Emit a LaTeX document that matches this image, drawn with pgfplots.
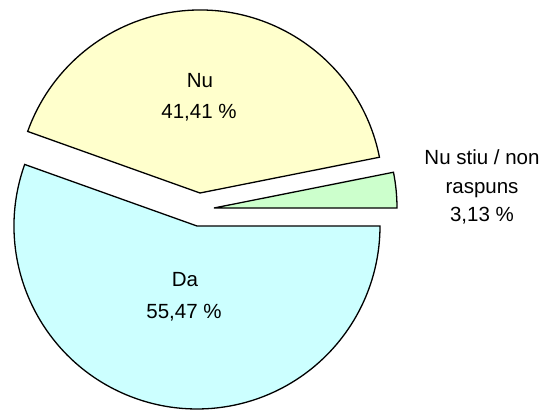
\documentclass[border=0pt]{standalone}
\usepackage{fontspec}
\setmainfont{Liberation Sans}
\usepackage{pgfplots}
\usepackage{pgfplotstable}
\pgfplotsset{compat=1.18}
\definecolor{nucol}{HTML}{FFFFCC}
\definecolor{dacol}{HTML}{CCFFFF}
\definecolor{nscol}{HTML}{CCFFCC}
% value (percent), exploded slice tip (x,y) in picture units
\pgfplotstableread{
label value tipx tipy
NuStiu 3.13 214 202
Nu 41.41 200 217
Da 55.47 197 184
}\piedata
\pgfplotstablegetelem{0}{value}\of\piedata \let\vA\pgfplotsretval
\pgfplotstablegetelem{1}{value}\of\piedata \let\vB\pgfplotsretval
\pgfplotstablegetelem{2}{value}\of\piedata \let\vC\pgfplotsretval
\pgfplotstablegetelem{0}{tipx}\of\piedata \let\xA\pgfplotsretval
\pgfplotstablegetelem{1}{tipx}\of\piedata \let\xB\pgfplotsretval
\pgfplotstablegetelem{2}{tipx}\of\piedata \let\xC\pgfplotsretval
\pgfplotstablegetelem{0}{tipy}\of\piedata \let\yA\pgfplotsretval
\pgfplotstablegetelem{1}{tipy}\of\piedata \let\yB\pgfplotsretval
\pgfplotstablegetelem{2}{tipy}\of\piedata \let\yC\pgfplotsretval
\pgfmathsetmacro\sA{0}
\pgfmathsetmacro\eA{3.6*\vA}
\pgfmathsetmacro\sB{\eA}
\pgfmathsetmacro\eB{\sB+3.6*\vB}
\pgfmathsetmacro\sC{\eB}
\pgfmathsetmacro\eC{360}
\def\R{183}
\begin{document}
\begin{tikzpicture}
\begin{axis}[
  x=1pt, y=1pt, anchor=origin, at={(0,0)},
  xmin=0, xmax=546, ymin=0, ymax=410,
  enlargelimits=false,
  hide axis, clip=false,
]
\filldraw[fill=nscol, draw=black, line width=1.3pt]
  (axis cs:\xA,\yA) -- ++(\sA:\R pt) arc[start angle=\sA, end angle=\eA, radius=\R pt] -- cycle;
\filldraw[fill=nucol, draw=black, line width=1.3pt]
  (axis cs:\xB,\yB) -- ++(\sB:\R pt) arc[start angle=\sB, end angle=\eB, radius=\R pt] -- cycle;
\filldraw[fill=dacol, draw=black, line width=1.3pt]
  (axis cs:\xC,\yC) -- ++(\sC:\R pt) arc[start angle=\sC, end angle=\eC, radius=\R pt] -- cycle;
\begin{scope}[every node/.style={anchor=base, inner sep=0pt, font=\fontsize{20.5}{24}\selectfont}]
\node at (axis cs:200,322.3) {Nu};
\node at (axis cs:199,291) {41,41 \%};
\node at (axis cs:185,123.3) {Da};
\node at (axis cs:184,91.7) {55,47 \%};
\node at (axis cs:482,245) {Nu stiu / non};
\node at (axis cs:482,217) {raspuns};
\node at (axis cs:482,188.5) {3,13 \%};
\end{scope}
\end{axis}
\pgfresetboundingbox
\path[use as bounding box] (0,0) rectangle (546pt,410pt);
\end{tikzpicture}
\end{document}
